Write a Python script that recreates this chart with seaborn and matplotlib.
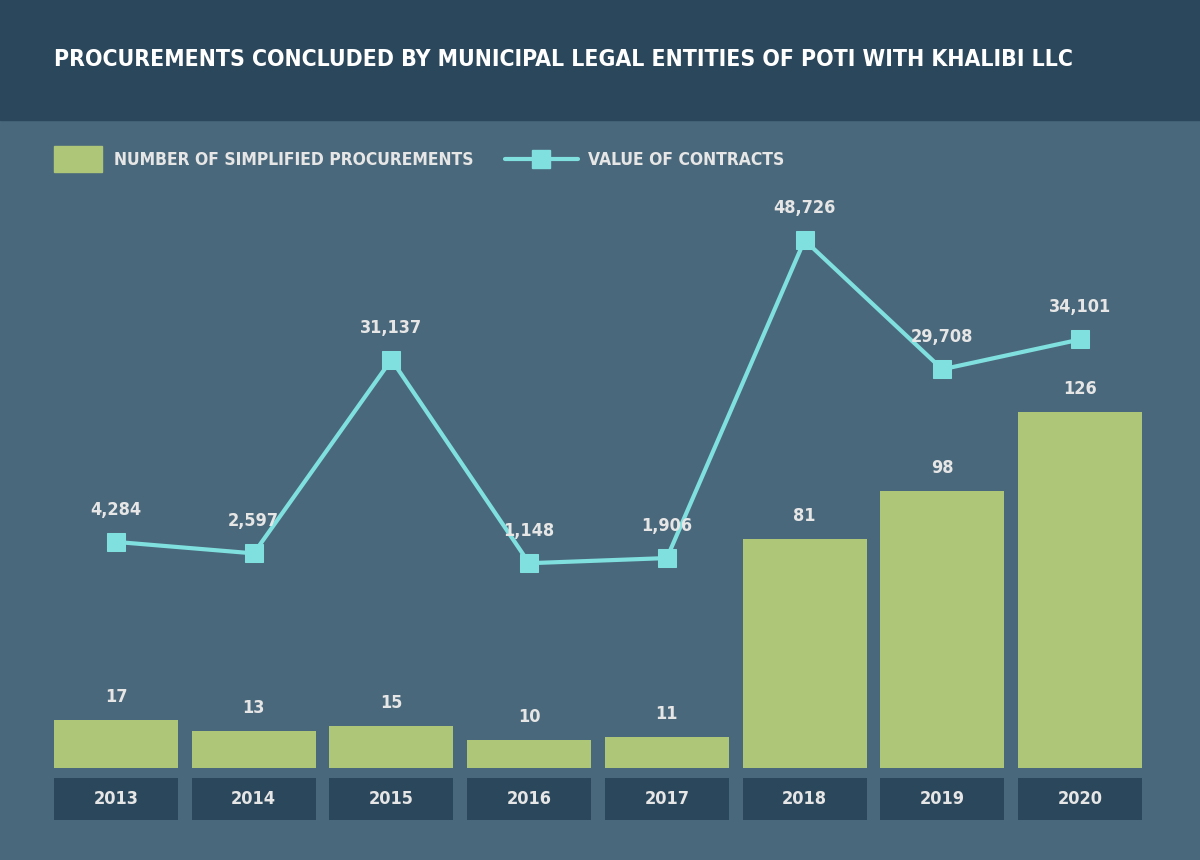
import matplotlib
matplotlib.use("Agg")
import matplotlib.pyplot as plt
import seaborn as sns
import pandas as pd
from matplotlib.patches import Rectangle
from matplotlib.lines import Line2D

years = ["2013", "2014", "2015", "2016", "2017", "2018", "2019", "2020"]
counts = [17, 13, 15, 10, 11, 81, 98, 126]
values = [4284, 2597, 31137, 1148, 1906, 48726, 29708, 34101]

BG = "#4a687b"
HEAD = "#2b475b"
BAR = "#adc678"
LINE = "#7fe0df"
TXT = "#e6e6e6"

sns.set_theme(style="white")
plt.rcParams['font.family'] = ['DejaVu Sans']
plt.rcParams['font.stretch'] = 'condensed'
plt.rcParams['font.weight'] = 'bold'

fig = plt.figure(figsize=(12, 8.6), dpi=100, facecolor=BG)
fig.patches.append(Rectangle((0, 1 - 120/860), 1, 120/860, transform=fig.transFigure,
                             color=HEAD, zorder=0))
fig.text(54/1200, 1 - 60/860, "PROCUREMENTS CONCLUDED BY MUNICIPAL LEGAL ENTITIES OF POTI WITH KHALIBI LLC",
         color="white", fontsize=16.5, fontweight="bold", va="center", ha="left")

df = pd.DataFrame({"year": years, "count": counts, "value": values})

ax = fig.add_axes([54/1200, 92/860, 1088/1200, 568/860])
ax.set_facecolor("none")
sns.barplot(data=df, x="year", y="count", color=BAR, width=0.9, saturation=1, ax=ax, linewidth=0)
ax.set_xlim(-0.45, 7.45)
ax.set_ylim(0, 568/2.825)
for i, c in enumerate(counts):
    ax.text(i, c + 5, str(c), ha="center", va="bottom", color=TXT, fontsize=13, fontweight="bold")
ax.axis("off")

ax2 = ax.twinx()
ax2.set_facecolor("none")
sns.lineplot(x=list(range(8)), y=values, ax=ax2, color=LINE, lw=3, marker="s",
             markersize=13, markeredgecolor=LINE)
ax2.set_ylim(-(768-571)*147.3, (571-200)*147.3)
ax2.set_xlim(-0.45, 7.45)
for i, v in enumerate(values):
    ax2.text(i, v + 3400, f"{v:,}", ha="center", va="bottom", color=TXT, fontsize=13, fontweight="bold")
ax2.axis("off")

axy = fig.add_axes([54/1200, 40/860, 1088/1200, 42/860])
axy.set_facecolor("none")
sns.barplot(x=years, y=[1]*8, color=HEAD, width=0.9, saturation=1, ax=axy, linewidth=0)
axy.set_xlim(-0.45, 7.45)
axy.set_ylim(0, 1)
for i, y in enumerate(years):
    axy.text(i, 0.5, y, ha="center", va="center", color=TXT, fontsize=13, fontweight="bold")
axy.axis("off")

# legend
fig.patches.append(Rectangle((54/1200, 1 - 172/860), 48/1200, 26/860, transform=fig.transFigure,
                             color=BAR))
fig.text(114/1200, 1 - 160/860, "NUMBER OF SIMPLIFIED PROCUREMENTS", color=TXT, fontsize=12.5,
         fontweight="bold", va="center")
fig.lines.append(Line2D([505/1200, 578/1200], [1 - 159/860]*2, transform=fig.transFigure,
                        color=LINE, lw=3))
fig.lines.append(Line2D([541/1200], [1 - 159/860], transform=fig.transFigure,
                        color=LINE, marker="s", markersize=13, linestyle="none"))
fig.text(588/1200, 1 - 160/860, "VALUE OF CONTRACTS", color=TXT, fontsize=12.5,
         fontweight="bold", va="center")

fig.savefig("out.png", dpi=100, facecolor=BG)
